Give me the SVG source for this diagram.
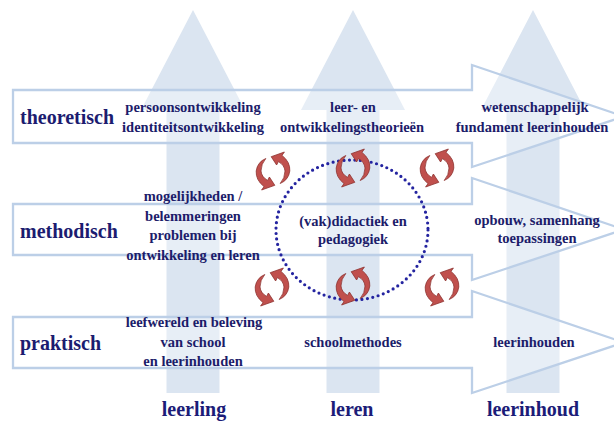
<svg xmlns="http://www.w3.org/2000/svg" width="614" height="421" viewBox="0 0 614 421">
<style>
.va{fill:#dbe5f1;stroke:none}
.ha{fill:#ffffff;fill-opacity:0.35;stroke:#bccfe7;stroke-width:2.3;stroke-linejoin:miter}
text{font-family:'Liberation Serif','Times New Roman',serif;font-weight:bold}
.title{font-size:20px;fill:#1c1c70}
.t{font-size:14.5px;fill:#1c1c6a;text-anchor:middle}
.foot{font-size:20px;fill:#1c1c78;text-anchor:middle}
.cyc{fill:#c0504d;stroke:#8a2e2b;stroke-width:0.7}
.ring{fill:none;stroke:#2424a0;stroke-width:3.2;stroke-linecap:round;stroke-dasharray:0 5.5}
</style>
<defs>
<g id="cycle">
<path class="cyc" d="M -6,-12.5 Q -13,-9 -14,0 Q -14.5,9 -7.5,15.6 L -9.5,19 L 1.5,14.3 L -3,6 L -4.5,9.4 Q -9.5,6 -10,0 Q -10,-7 -6,-12.5 Z"/>
<path class="cyc" transform="rotate(180)" d="M -6,-12.5 Q -13,-9 -14,0 Q -14.5,9 -7.5,15.6 L -9.5,19 L 1.5,14.3 L -3,6 L -4.5,9.4 Q -9.5,6 -10,0 Q -10,-7 -6,-12.5 Z"/>
</g>
</defs>
<rect width="614" height="421" fill="#ffffff"/>

<g id="col-leerling">
<path class="va" d="M166.5,393 L166.5,110 L141,110 L193,10 L245,110 L219.5,110 L219.5,393 Z"/>
</g>
<g id="col-leren">
<path class="va" d="M326.5,393 L326.5,110 L301,110 L353,10 L405,110 L379.5,110 L379.5,393 Z"/>
</g>
<g id="col-leerinhoud">
<path class="va" d="M506.5,393 L506.5,110 L481,110 L533,10 L585,110 L559.5,110 L559.5,393 Z"/>
</g>

<g id="row-theoretisch">
<path class="ha" d="M13,90 L472,90 L472,65 L624,116.5 L472,167 L472,143 L13,143 Z"/>
</g>
<g id="row-methodisch">
<path class="ha" d="M13,204 L472,204 L472,178 L624,229.5 L472,280 L472,255 L13,255 Z"/>
</g>
<g id="row-praktisch">
<path class="ha" d="M13,317 L472,317 L472,291 L624,342.5 L472,393 L472,368 L13,368 Z"/>
</g>

<g id="core">
<ellipse class="ring" cx="352" cy="230" rx="76" ry="70"/>
</g>

<g id="connectors">
<use href="#cycle" transform="translate(273,171) scale(1.2,1)"/>
<use href="#cycle" transform="translate(353,168) scale(1.2,1)"/>
<use href="#cycle" transform="translate(437,168) scale(1.2,1)"/>
<use href="#cycle" transform="translate(272,287) scale(1.2,1)"/>
<use href="#cycle" transform="translate(353,286) scale(1.2,1)"/>
<use href="#cycle" transform="translate(442,287) scale(1.2,1)"/>
</g>

<g id="labels-rows">
<text class="title" x="20" y="124">theoretisch</text>
<text class="title" x="20" y="238">methodisch</text>
<text class="title" x="20" y="350">praktisch</text>
</g>

<g id="cell-theoretisch-leerling">
<text class="t" x="193" y="112">persoonsontwikkeling</text>
<text class="t" x="193" y="132">identiteitsontwikkeling</text>
</g>
<g id="cell-theoretisch-leren">
<text class="t" x="353" y="112">leer- en</text>
<text class="t" x="352" y="132">ontwikkelingstheorieën</text>
</g>
<g id="cell-theoretisch-leerinhoud">
<text class="t" x="535" y="112">wetenschappelijk</text>
<text class="t" x="532" y="132">fundament leerinhouden</text>
</g>

<g id="cell-methodisch-leerling">
<text class="t" x="193" y="201">mogelijkheden /</text>
<text class="t" x="193" y="221">belemmeringen</text>
<text class="t" x="193" y="240">problemen bij</text>
<text class="t" x="193" y="260">ontwikkeling en leren</text>
</g>
<g id="cell-methodisch-leren">
<text class="t" x="353" y="226">(vak)didactiek en</text>
<text class="t" x="353" y="244">pedagogiek</text>
</g>
<g id="cell-methodisch-leerinhoud">
<text class="t" x="537" y="225">opbouw, samenhang</text>
<text class="t" x="537" y="243">toepassingen</text>
</g>

<g id="cell-praktisch-leerling">
<text class="t" x="194" y="327">leefwereld en beleving</text>
<text class="t" x="193" y="347">van school</text>
<text class="t" x="193" y="366">en leerinhouden</text>
</g>
<g id="cell-praktisch-leren">
<text class="t" x="353" y="347">schoolmethodes</text>
</g>
<g id="cell-praktisch-leerinhoud">
<text class="t" x="534" y="347">leerinhouden</text>
</g>

<g id="labels-columns">
<text class="foot" x="194" y="416">leerling</text>
<text class="foot" x="352" y="416">leren</text>
<text class="foot" x="533" y="416">leerinhoud</text>
</g>
</svg>
